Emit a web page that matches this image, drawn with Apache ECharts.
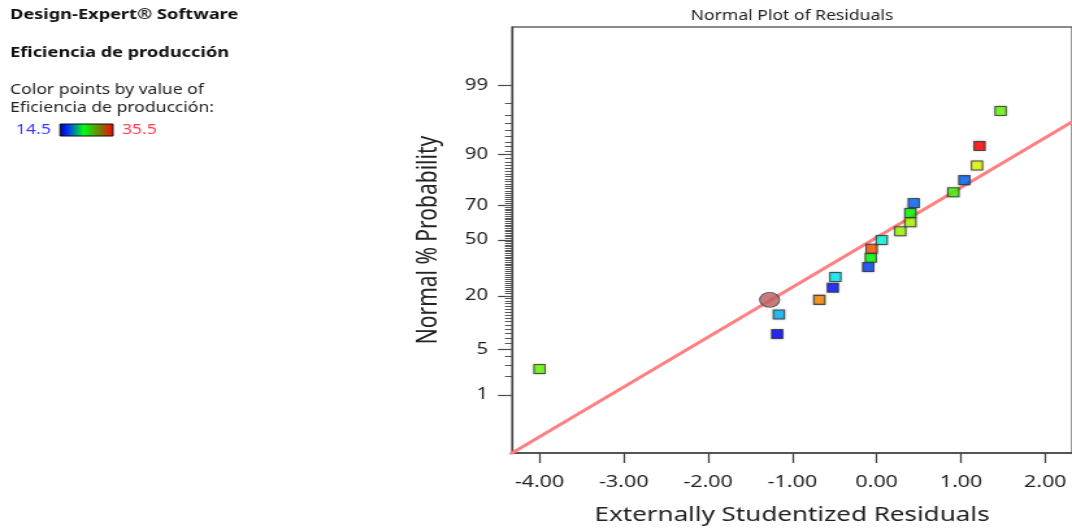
<!DOCTYPE html>
<html>
<head>
<meta charset="utf-8">
<script src="https://cdn.jsdelivr.net/npm/echarts@6/dist/echarts.min.js"></script>
<style>
  html, body { margin: 0; padding: 0; background: #ffffff; overflow: hidden; }
  /* The plot is drawn at 825px wide and widened to fill the 1072px page */
  #chart { width: 825px; height: 530px; transform: scaleX(1.29939); transform-origin: 0 0; }
</style>
</head>
<body>
<div id="chart"></div>
<script>
// Externally studentized residuals (x) and their normal % probability (y)
const residuals = [-4.00, -1.18, -1.16, -0.68, -0.52, -0.49, -0.10, -0.07, -0.06, 0.06,
                   0.28, 0.40, 0.40, 0.44, 0.91, 1.04, 1.19, 1.22, 1.47];
const probabilities = [2.63, 7.89, 13.16, 18.42, 23.68, 28.95, 34.21, 39.47, 44.74, 50.00,
                       55.26, 60.53, 65.79, 71.05, 76.32, 81.58, 86.84, 92.11, 97.37];
// Eficiencia de producción for each run (drives the point colour)
const efficiency = [27.1, 14.5, 18.3, 32.7, 14.9, 19.4, 15.9, 25.0, 33.8, 20.4,
                    28.2, 28.5, 25.0, 16.6, 26.4, 16.6, 29.8, 35.5, 27.1];
// Highlighted run
const highlightResidual = [-1.27];
const highlightProbability = [18.42];
// Reference line: [intercept, slope] in normal-score units
const refLine = [0.04, 0.749];
// Axis tick labels
const xTicks = [-4, -3, -2, -1, 0, 1, 2];
const probMajorTicks = [1, 5, 20, 50, 70, 90, 99];
const probMinorTicks = Array.from({ length: 99 }, (_, i) => i + 1);
const colorRange = [14.5, 35.5];

// Inverse standard normal CDF (Acklam) used for the probability scale
function probit(p) {
  const a = [-3.969683028665376e+01, 2.209460984245205e+02, -2.759285104469687e+02,
             1.383577518672690e+02, -3.066479806614716e+01, 2.506628277459239e+00];
  const b = [-5.447609879822406e+01, 1.615858368580409e+02, -1.556989798598866e+02,
             6.680131188771972e+01, -1.328068155288572e+01];
  const c = [-7.784894002430293e-03, -3.223964580411365e-01, -2.400758277161838e+00,
             -2.549732539343734e+00, 4.374664141464968e+00, 2.938163982698783e+00];
  const d = [7.784695709041462e-03, 3.224671290700398e-01, 2.445134137142996e+00,
             3.754408661907416e+00];
  const pl = 0.02425, ph = 1 - pl;
  let q, r;
  if (p < pl) {
    q = Math.sqrt(-2 * Math.log(p));
    return (((((c[0]*q+c[1])*q+c[2])*q+c[3])*q+c[4])*q+c[5]) / ((((d[0]*q+d[1])*q+d[2])*q+d[3])*q+1);
  }
  if (p <= ph) {
    q = p - 0.5; r = q * q;
    return (((((a[0]*r+a[1])*r+a[2])*r+a[3])*r+a[4])*r+a[5])*q / (((((b[0]*r+b[1])*r+b[2])*r+b[3])*r+b[4])*r+1);
  }
  q = Math.sqrt(-2 * Math.log(1 - p));
  return -(((((c[0]*q+c[1])*q+c[2])*q+c[3])*q+c[4])*q+c[5]) / ((((d[0]*q+d[1])*q+d[2])*q+d[3])*q+1);
}
const z = pct => probit(pct / 100);

const majorZ = probMajorTicks.map(z);
const minorZ = probMinorTicks.map(z);

const pointData = residuals.map((r, i) => [r, z(probabilities[i]), efficiency[i]]);
const highlightData = highlightResidual.map((r, i) => [r, z(highlightProbability[i])]);
const lineX = [-5, 3];
const lineData = lineX.map(x => [x, refLine[0] + refLine[1] * x]);

// horizontal widening applied by the stylesheet; page x -> drawing x
const S = 1072 / 825;
const px = v => v / S;

const FONT = '"Noto Sans", "Open Sans", sans-serif';
const chart = echarts.init(document.getElementById('chart'));

const X_MIN = -4.326, X_MAX = 2.317;
const Y_MIN = -3.2, Y_MAX = 3.2;

chart.setOption({
  animation: false,
  backgroundColor: '#ffffff',
  grid: {
    left: px(512), top: 27, right: px(-2), bottom: 77,
    show: true, borderColor: '#666666', borderWidth: 1.3, backgroundColor: 'transparent'
  },
  visualMap: {
    show: false, type: 'continuous', seriesIndex: 1, dimension: 2,
    min: colorRange[0], max: colorRange[1],
    inRange: { color: ['#0000ff', '#00ffff', '#00ff00', '#ffff00', '#ff0000'] }
  },
  xAxis: {
    type: 'value', min: X_MIN, max: X_MAX,
    splitLine: { show: false },
    axisLine: { show: true, onZero: false, lineStyle: { color: '#444444', width: 1.5 } },
    axisTick: { show: true, customValues: xTicks, length: 10, lineStyle: { color: '#444444', width: 1.3 } },
    axisLabel: {
      customValues: xTicks, margin: 21, color: '#222222', fontSize: 16.5, fontFamily: FONT,
      formatter: v => v.toFixed(2)
    },
    name: 'Externally Studentized Residuals', nameLocation: 'middle', nameGap: 52,
    nameTextStyle: { fontSize: 20, color: '#222222', fontFamily: FONT }
  },
  yAxis: [
    {
      type: 'value', min: Y_MIN, max: Y_MAX,
      splitLine: { show: false },
      axisLine: { show: true, onZero: false, lineStyle: { color: '#444444', width: 1.2 } },
      axisTick: { show: true, customValues: majorZ, length: px(14), lineStyle: { color: '#444444', width: 1.2 } },
      axisLabel: {
        customValues: majorZ, margin: px(24), color: '#222222', fontSize: 15.5, fontFamily: FONT,
        formatter: v => {
          let best = 0;
          majorZ.forEach((m, i) => { if (Math.abs(m - v) < Math.abs(majorZ[best] - v)) best = i; });
          return String(probMajorTicks[best]);
        }
      },
      name: 'Normal % Probability', nameLocation: 'middle', nameGap: 54,
      nameTextStyle: { fontSize: 21, color: '#222222', fontFamily: FONT }
    },
    {
      type: 'value', min: Y_MIN, max: Y_MAX, position: 'left',
      splitLine: { show: false },
      axisLine: { show: false, onZero: false },
      axisTick: { show: true, customValues: minorZ, length: px(7), lineStyle: { color: '#555555', width: 1 } },
      axisLabel: { show: false }
    }
  ],
  series: [
    {
      type: 'line', data: lineData, symbol: 'none', clip: true, z: 2,
      lineStyle: { color: '#ff8080', width: 3 }
    },
    {
      type: 'scatter', data: pointData, symbol: 'rect', symbolSize: [8.5, 9], z: 3,
      itemStyle: { borderColor: '#333333', borderWidth: 1, shadowBlur: 2, shadowColor: 'rgba(0,0,0,0.3)' }
    },
    {
      type: 'scatter', data: highlightData, symbol: 'circle', symbolSize: [15.4, 15], z: 3,
      itemStyle: { color: '#b85c5c', borderColor: '#444444', borderWidth: 1 }
    }
  ],
  graphic: [
    { type: 'text', left: px(10), top: 8, style: { text: 'Design-Expert® Software', font: `bold 14px ${FONT}`, fill: '#111111' } },
    { type: 'text', left: px(10), top: 46, style: { text: 'Eficiencia de producción', font: `bold 14px ${FONT}`, fill: '#111111' } },
    { type: 'text', left: px(10), top: 83, style: { text: 'Color points by value of', font: `13.5px ${FONT}`, fill: '#222222' } },
    { type: 'text', left: px(10), top: 101, style: { text: 'Eficiencia de producción:', font: `13.5px ${FONT}`, fill: '#222222' } },
    { type: 'text', left: px(16), top: 123, style: { text: String(colorRange[0]), font: `13.5px ${FONT}`, fill: '#3a3aff' } },
    { type: 'text', left: px(122), top: 123, style: { text: String(colorRange[1]), font: `13.5px ${FONT}`, fill: '#ff3b4e' } },
    {
      type: 'rect', shape: { x: px(60), y: 124, width: px(53), height: 12 },
      style: {
        stroke: '#111111', lineWidth: 1,
        fill: new echarts.graphic.LinearGradient(0, 0, 1, 0, [
          { offset: 0, color: '#000090' },
          { offset: 0.15, color: '#0030ff' },
          { offset: 0.45, color: '#00ff10' },
          { offset: 0.75, color: '#7a7a00' },
          { offset: 1, color: '#ff0000' }
        ])
      }
    },
    { type: 'text', x: px(792), y: 9, style: { text: 'Normal Plot of Residuals', font: `13.5px ${FONT}`, fill: '#222222', align: 'center' } }
  ]
});
</script>
</body>
</html>
